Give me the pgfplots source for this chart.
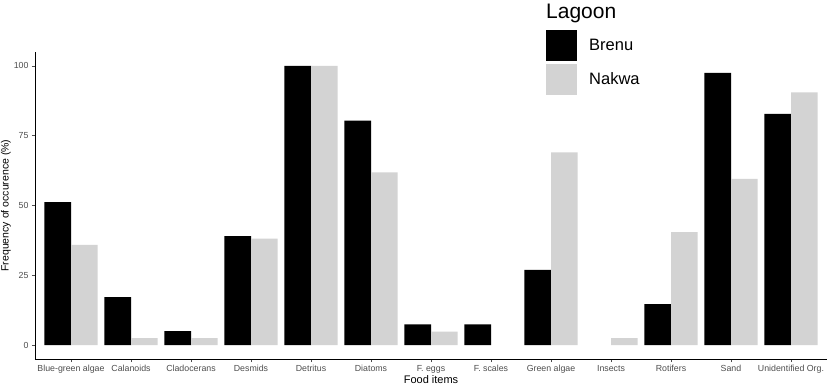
\documentclass[border=0pt]{standalone}
\usepackage{pgfplots}
\pgfplotsset{compat=1.18}
\usetikzlibrary{calc}
\usepackage{fontspec}
\setmainfont{Liberation Sans}
\definecolor{nakwa}{HTML}{D3D3D3}
\definecolor{ticktext}{HTML}{4D4D4D}
\begin{document}
\begin{tikzpicture}
\begin{axis}[
  name=ax,
  scale only axis,
  width=792pt, height=307pt,
  xmin=0.4, xmax=13.6,
  ymin=-5, ymax=105,
  axis lines=left,
  axis line style={-, black, line width=0.6pt},
  ybar=0pt,
  bar width=26.7pt,
  xtick={1,...,13},
  xticklabels={Blue-green algae,Calanoids,Cladocerans,Desmids,Detritus,Diatoms,F. eggs,F. scales,Green algae,Insects,Rotifers,Sand,Unidentified Org.},
  ytick={0,25,50,75,100},
  tick align=outside,
  major tick length=3pt,
  tick style={ticktext, line width=0.5pt},
  ticklabel style={font=\fontsize{8.8}{10}\selectfont, text=ticktext},
  /pgf/number format/assume math mode=true,
  xlabel={Food items},
  ylabel={Frequency of occurence (\%)},
  xlabel style={font=\fontsize{11}{12}\selectfont, yshift=5.5pt},
  ylabel style={font=\fontsize{10.5}{12}\selectfont, yshift=-4pt},
  legend image code/.code={\path[#1,draw=none] (0pt,-15.5pt) rectangle (31pt,15.5pt); \path (41pt,0pt);},
  legend style={draw=none, fill=none, at={(rel axis cs:0.6452,1.072)}, anchor=north west,
    font=\fontsize{16.5}{18}\selectfont, row sep=2.5pt, inner sep=0pt},
  legend cell align=left,
]
\addplot[fill=black, draw=none] coordinates {
 (1,51.2) (2,17.2) (3,5.0) (4,39.0) (5,100) (6,80.4) (7,7.4) (8,7.4) (9,26.9) (11,14.7) (12,97.5) (13,82.8)};
\addplot[fill=nakwa, draw=none] coordinates {
 (1,35.9) (2,2.5) (3,2.5) (4,38.1) (5,100) (6,61.9) (7,4.8) (9,69.0) (10,2.5) (11,40.5) (12,59.5) (13,90.5)};
\legend{Brenu,Nakwa}
\end{axis}
\node[anchor=base west, font=\fontsize{21}{23}\selectfont, inner sep=0pt] at ($(ax.north west)+(511pt,33pt)$) {Lagoon};
\pgfresetboundingbox
\path ($(ax.south west)+(-35pt,-27pt)$) rectangle ($(ax.north east)+(0pt,52pt)$);
\end{tikzpicture}
\end{document}
